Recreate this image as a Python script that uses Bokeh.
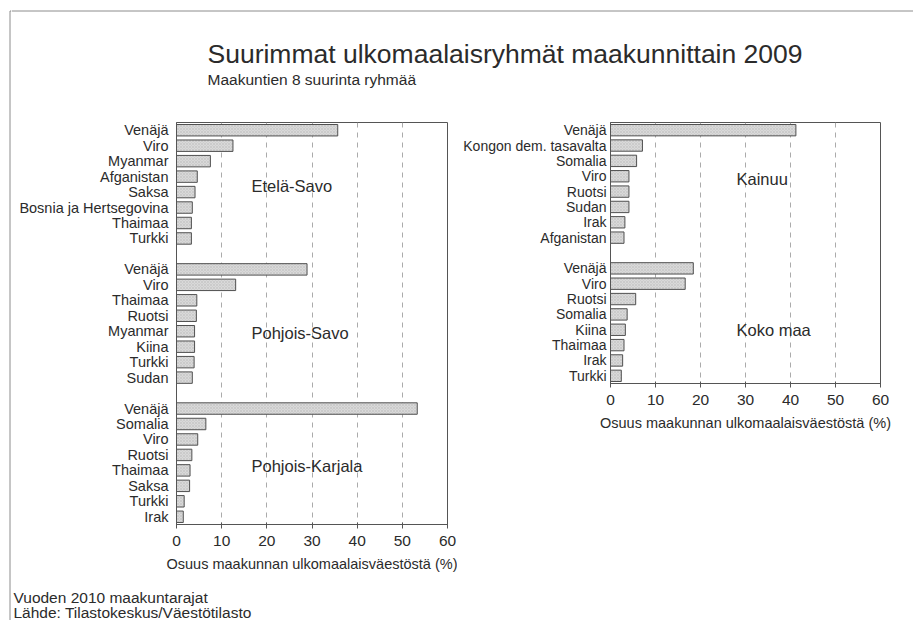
from bokeh.plotting import figure
from bokeh.layouts import column, row
from bokeh.models import Range1d, FixedTicker
from bokeh.core.properties import value
from bokeh.embed import file_html
from bokeh.resources import INLINE

# ---------------- data ----------------
title_text = "Suurimmat ulkomaalaisryhmät maakunnittain 2009"
subtitle_text = "Maakuntien 8 suurinta ryhmää"
footer_lines = ["Vuoden 2010 maakuntarajat", "Lähde: Tilastokeskus/Väestötilasto"]
x_axis_title = "Osuus maakunnan ulkomaalaisväestöstä (%)"
x_ticks = [0, 10, 20, 30, 40, 50, 60]

etela_savo_names = ["Venäjä", "Viro", "Myanmar", "Afganistan", "Saksa",
                    "Bosnia ja Hertsegovina", "Thaimaa", "Turkki"]
etela_savo_values = [35.7, 12.5, 7.5, 4.6, 4.1, 3.5, 3.3, 3.3]

pohjois_savo_names = ["Venäjä", "Viro", "Thaimaa", "Ruotsi", "Myanmar", "Kiina", "Turkki", "Sudan"]
pohjois_savo_values = [28.9, 13.1, 4.5, 4.4, 4.0, 4.0, 3.9, 3.5]

pohjois_karjala_names = ["Venäjä", "Somalia", "Viro", "Ruotsi", "Thaimaa", "Saksa", "Turkki", "Irak"]
pohjois_karjala_values = [53.3, 6.5, 4.7, 3.4, 3.0, 2.9, 1.7, 1.5]

kainuu_names = ["Venäjä", "Kongon dem. tasavalta", "Somalia", "Viro", "Ruotsi", "Sudan", "Irak", "Afganistan"]
kainuu_values = [41.2, 7.1, 5.8, 4.1, 4.1, 4.1, 3.2, 3.0]

koko_maa_names = ["Venäjä", "Viro", "Ruotsi", "Somalia", "Kiina", "Thaimaa", "Irak", "Turkki"]
koko_maa_values = [18.4, 16.6, 5.6, 3.7, 3.3, 3.0, 2.7, 2.4]

left_groups = [("Etelä-Savo", etela_savo_names, etela_savo_values),
               ("Pohjois-Savo", pohjois_savo_names, pohjois_savo_values),
               ("Pohjois-Karjala", pohjois_karjala_names, pohjois_karjala_values)]
right_groups = [("Kainuu", kainuu_names, kainuu_values),
                ("Koko maa", koko_maa_names, koko_maa_values)]

# ---------------- style ----------------
FONT = value("Liberation Sans")
FONT_NAME = "Liberation Sans"
TXT = "#2b2b2b"
FRAME_COL = "#8c8c8c"
BAR_FILL = "#d9d9d9"
BAR_LINE = "#505050"
AX_COL = "#555555"

# panel-label placement (x in data units, y offset in rows within group)
left_label_pos = [(16.6, 3.6), (16.6, 4.1), (16.6, 3.7)]
right_label_pos = [(28.0, 3.2), (28.0, 4.0)]


def make_panel(groups, label_pos, frame_w, frame_h, b_left, b_right, b_top, b_bottom,
               standoff, cat_size):
    n = 9 * len(groups) - 1
    p = figure(frame_width=frame_w, frame_height=frame_h, title=None,
               min_border_left=b_left, min_border_right=b_right,
               min_border_top=b_top, min_border_bottom=b_bottom,
               x_range=Range1d(0, 60), y_range=Range1d(n - 0.5, -0.5),
               toolbar_location=None, output_backend="svg")
    ys, vals, overrides = [], [], {}
    for g, (name, cats, vs) in enumerate(groups):
        for i, (c, v) in enumerate(zip(cats, vs)):
            y = g * 9 + i
            ys.append(y)
            vals.append(v)
            overrides[y] = c
    p.hbar(y=ys, left=0, right=vals, height=0.74,
           fill_color=BAR_FILL, line_color=BAR_LINE, line_width=1,
           hatch_pattern="diagonal_cross", hatch_color="#bdbdbd",
           hatch_scale=3, hatch_weight=0.5)
    for g, (name, cats, vs) in enumerate(groups):
        lx, ly = label_pos[g]
        p.text(x=[lx], y=[g * 9 + ly], text=[name], text_font=FONT,
               text_font_size="16.5px", text_color=TXT,
               text_align="left", text_baseline="middle")

    p.outline_line_color = AX_COL
    p.outline_line_width = 1
    p.ygrid.visible = False
    p.xgrid.ticker = FixedTicker(ticks=[10, 20, 30, 40, 50])
    p.xgrid.grid_line_color = "#ababab"
    p.xgrid.grid_line_dash = "5 5"
    p.xgrid.grid_line_width = 1

    xa = p.xaxis[0]
    xa.ticker = FixedTicker(ticks=x_ticks)
    xa.axis_line_color = AX_COL
    xa.major_tick_line_color = AX_COL
    xa.major_tick_in = 2
    xa.major_tick_out = 4
    xa.minor_tick_line_color = None
    xa.minor_tick_in = 0
    xa.minor_tick_out = 0
    xa.major_label_standoff = 7
    xa.major_label_text_font = FONT_NAME
    xa.major_label_text_font_size = "15.5px"
    xa.major_label_text_color = TXT
    xa.axis_label = x_axis_title
    xa.axis_label_text_font = FONT_NAME
    xa.axis_label_text_font_size = "14.5px"
    xa.axis_label_text_font_style = "normal"
    xa.axis_label_text_color = TXT
    xa.axis_label_standoff = 7

    ya = p.yaxis[0]
    ya.ticker = FixedTicker(ticks=ys)
    ya.major_label_overrides = overrides
    ya.axis_line_color = AX_COL
    ya.major_tick_line_color = None
    ya.minor_tick_line_color = None
    ya.major_tick_in = 0
    ya.major_tick_out = 0
    ya.minor_tick_in = 0
    ya.minor_tick_out = 0
    ya.major_label_standoff = standoff
    ya.major_label_text_font = FONT_NAME
    ya.major_label_text_font_size = cat_size
    ya.major_label_text_color = TXT
    return p


left = make_panel(left_groups, left_label_pos, 271, 402, 165, 10, 21, 63, 8, "14.5px")
right = make_panel(right_groups, right_label_pos, 270, 261, 153, 33, 22, 63, 4, "14px")

CONTENT_W = 902


def blank(width, height):
    f = figure(width=width, height=height, title=None, x_range=Range1d(0, width),
               y_range=Range1d(height, 0), min_border=0,
               x_axis_location=None, y_axis_location=None,
               toolbar_location=None, output_backend="svg")
    f.grid.visible = False
    f.outline_line_color = None
    return f


header = blank(CONTENT_W, 100)
header.segment(x0=[0], y0=[10.5], x1=[CONTENT_W], y1=[10.5], line_color=FRAME_COL, line_width=1)
header.text(x=[196], y=[53.5], text=[title_text], text_font=FONT, text_font_size="26.5px",
            text_color=TXT, text_align="left", text_baseline="middle")
header.text(x=[196], y=[78.5], text=[subtitle_text], text_font=FONT, text_font_size="15.5px",
            text_color=TXT, text_align="left", text_baseline="middle")

FOOT_H = 34
footer = blank(CONTENT_W, FOOT_H)
footer.text(x=[2, 2], y=[10.5, 25.5], text=footer_lines, text_font=FONT, text_font_size="15.5px",
            text_color=TXT, text_align="left", text_baseline="middle")

edge = blank(11, 620)
edge.segment(x0=[9.5, 9.5], y0=[10.5, 10.5], x1=[9.5, 11], y1=[620, 10.5],
             line_color=FRAME_COL, line_width=1)

layout = row(edge, column(header, row(left, right), footer))

open("out.html", "w").write(file_html(layout, INLINE))
